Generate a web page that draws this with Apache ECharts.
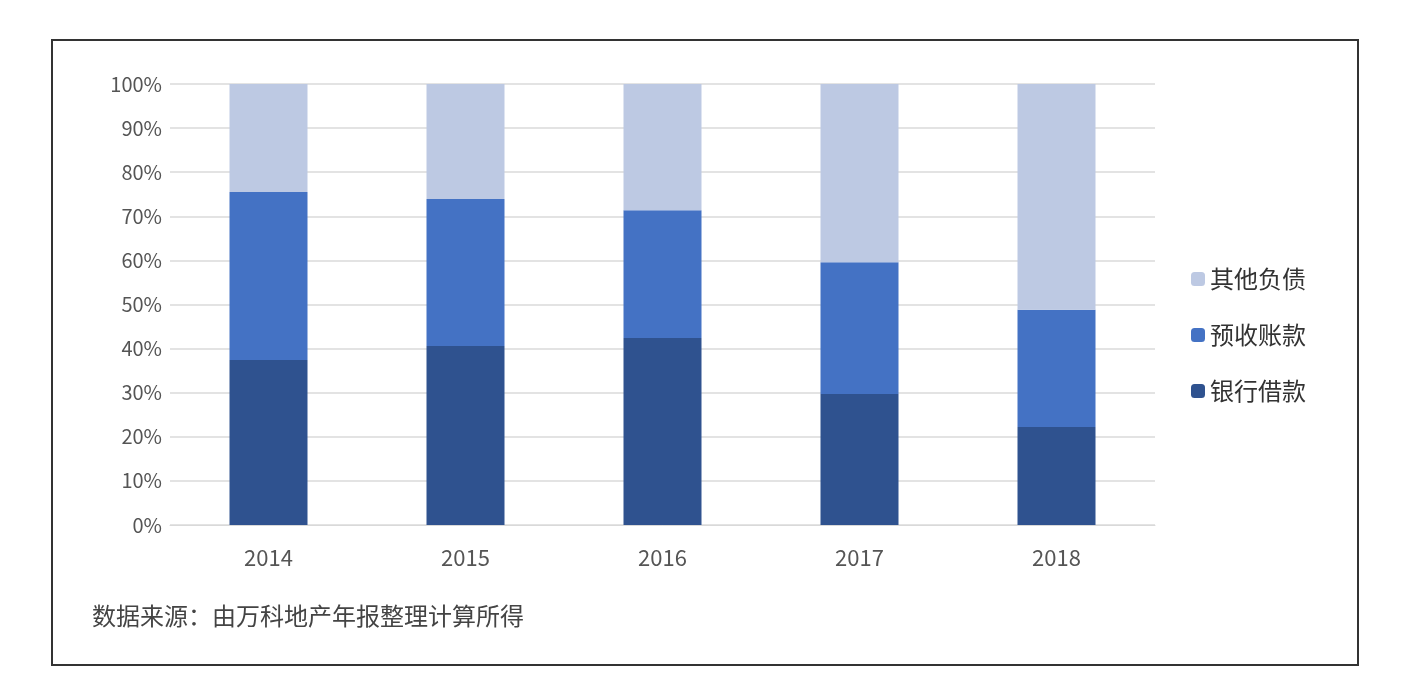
<!DOCTYPE html>
<html><head><meta charset="utf-8">
<script src="https://cdn.jsdelivr.net/npm/echarts@6/dist/echarts.min.js"></script>
<style>html,body{margin:0;padding:0;background:#fff}#c{width:1423px;height:682px}</style>
</head><body><div id="c"></div>
<script>
const years = ['2014','2015','2016','2017','2018'];
const bankLoans = [37.4, 40.6, 42.4, 29.7, 22.2];
const advances = [38.1, 33.3, 29.0, 29.9, 26.6];
const others = [24.5, 26.1, 28.6, 40.4, 51.2];
const seriesNames = ['银行借款','预收账款','其他负债'];
const colors = ['#2f528f','#4472c4','#bdc9e3'];
const chart = echarts.init(document.getElementById('c'));
const font = '"Noto Sans CJK SC", sans-serif';
chart.setOption({
  animation:false,
  graphic:[
    {type:'rect',shape:{x:52,y:40,width:1306,height:625},style:{fill:'none',stroke:'#333',lineWidth:2}},
    {type:'text',left:92,top:604,style:{text:'数据来源：由万科地产年报整理计算所得',font:'24px '+font,fill:'#444'}}
  ],
  legend:{orient:'vertical',left:1186,top:262,itemGap:32,itemWidth:14,itemHeight:14,
    data:['其他负债','预收账款','银行借款'],textStyle:{fontSize:24,color:'#333',fontFamily:font}},
  grid:{left:170,right:268,top:84,bottom:157},
  xAxis:{type:'category',data:years,axisTick:{show:false},
    axisLine:{lineStyle:{color:'#d9d9d9'}},
    axisLabel:{fontSize:22,color:'#555',margin:22,fontFamily:font}},
  yAxis:{type:'value',min:0,max:100,interval:10,
    axisLabel:{formatter:'{value}%',fontSize:20,color:'#555',fontFamily:font},
    splitLine:{lineStyle:{color:'#e3e3e3',width:2}}},
  series:[bankLoans,advances,others].map((d,i)=>({
    name:seriesNames[i],type:'bar',stack:'a',barWidth:78,data:d,
    itemStyle:{color:colors[i]}
  }))
});
</script></body></html>
